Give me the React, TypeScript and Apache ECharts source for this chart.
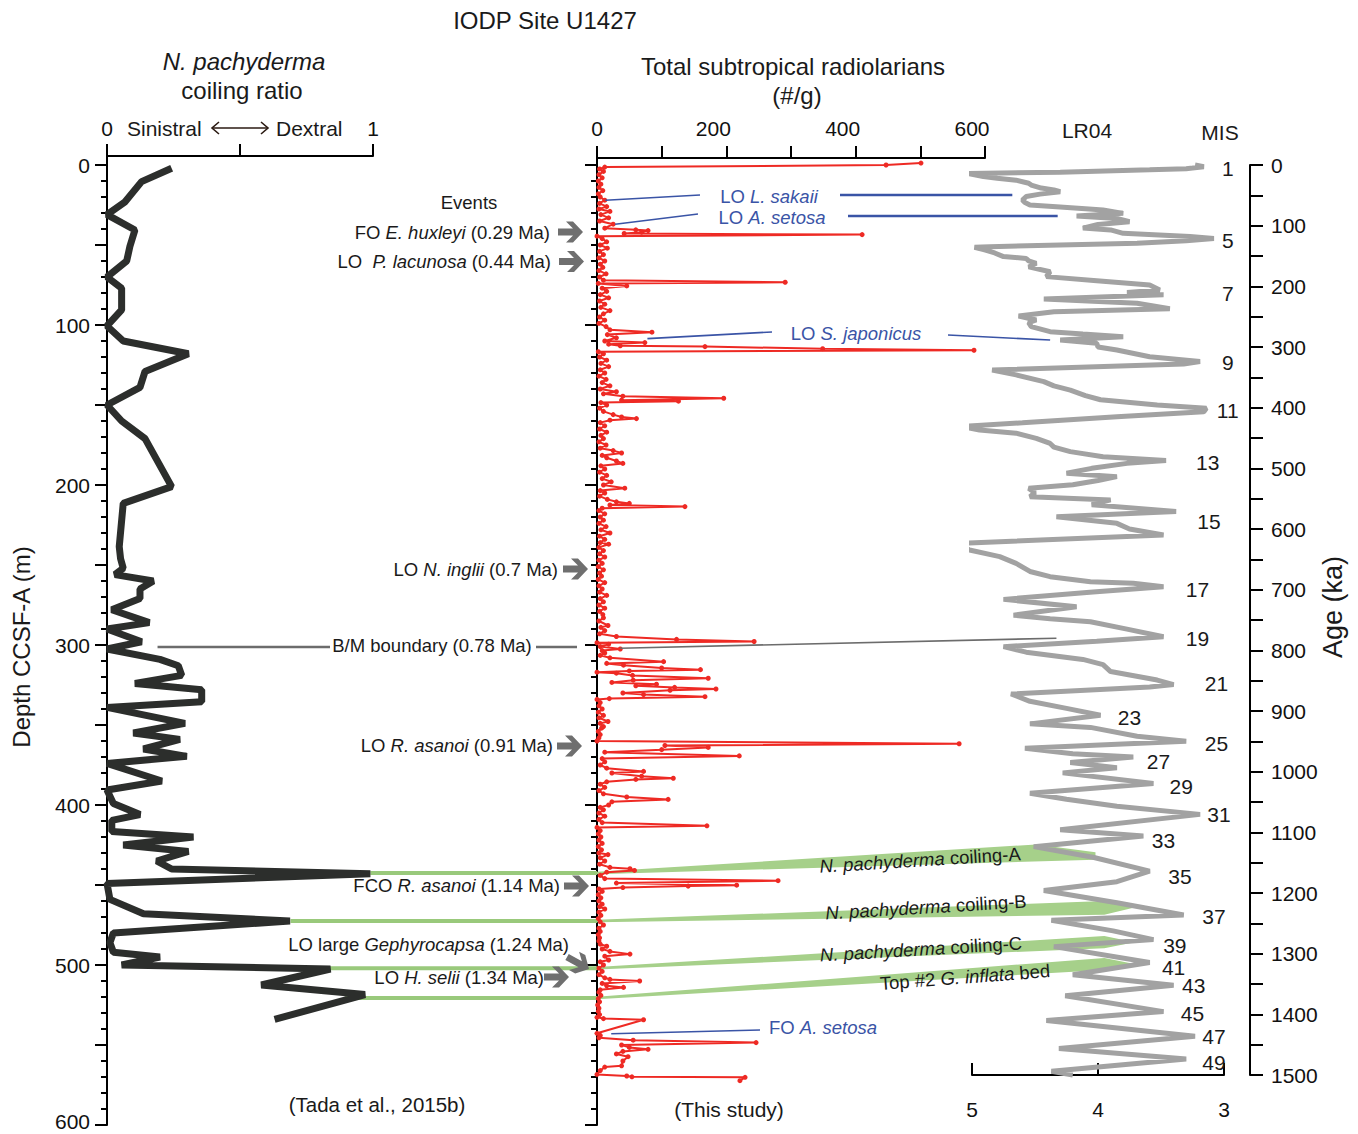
import React, { useEffect, useRef } from 'react';
import * as echarts from 'echarts';

const FONT = '"Liberation Sans", Arial, Helvetica, sans-serif';

// [depth (m), coiling ratio]
const pachyderma: [number, number][] = [
  [2, 0.243], [10.4, 0.13], [23, 0.068], [31, 0.0], [40.6, 0.105], [51, 0.086], [60, 0.074], [70, 0],
  [77, 0.055], [90.6, 0.055], [100.6, 0], [110, 0.061], [118, 0.306], [129, 0.143], [139, 0.124], [150, 0],
  [160, 0.055], [171, 0.143], [201, 0.243], [211.5, 0.061], [238.5, 0.046], [246, 0.051], [252, 0.061],
  [256, 0.03], [260, 0.174], [265, 0.124], [271, 0.124], [278, 0.018], [286, 0.159], [290, 0], [298, 0.13],
  [302.5, 0], [309, 0.199], [313, 0.268], [319, 0.281], [324, 0.105], [328, 0.356], [335.5, 0.356], [339, 0],
  [349, 0.293], [355, 0.099], [359, 0.274], [365, 0.137], [369.6, 0.3], [374, 0], [385, 0.206], [390.6, 0],
  [399, 0.024], [406, 0.124], [409.6, 0.018], [416.5, 0.018], [420, 0.325], [425, 0.061], [429, 0.306],
  [435, 0.187], [440, 0.243], [443, 0.99], [449, 0], [459, 0.011], [468, 0.137], [472.5, 0.688], [480, 0.024],
  [486, 0.011], [492, 0.024], [495, 0.199], [500, 0.055], [502.5, 0.84], [512.5, 0.58], [518.5, 0.97], [534, 0.63],
];

// [depth (m), total subtropical radiolarians (#/g)]
const radiolarians: [number, number][] = [
  [-1.2, 501], [0, 447], [1.3, 12], [2.5, 4], [4, 10], [6, 3], [8, 8], [10, 2], [12, 6], [14, 3], [16, 9],
  [18, 2], [20, 5], [22, 12], [24, 4], [26, 15], [27.5, 3], [29, 20], [31, 6], [33, 18], [35, 4], [37, 25],
  [39.5, 12], [40.5, 60], [41, 79], [42, 69], [42.8, 42], [43.5, 410], [44.5, 0], [46, 8], [48, 15], [50, 5],
  [52, 16], [54, 4], [56, 10], [58, 3], [60, 12], [62, 5], [64, 9], [66, 3], [68, 14], [70, 4], [72, 10],
  [73.3, 291], [74, 2], [75.6, 46], [77, 8], [79, 15], [81, 5], [83, 18], [85, 4], [87, 12], [89, 6], [91, 20],
  [93, 10], [95, 4], [97, 12], [99, 3], [101, 14], [103, 20], [104.5, 85], [106, 16], [108, 30], [110, 12],
  [111, 74], [112, 18], [113, 36], [113.5, 167], [114.8, 349], [115.8, 583], [116.7, 2], [118, 10], [120, 4],
  [122, 15], [124, 6], [126, 18], [128, 5], [130, 12], [132, 3], [134, 14], [136, 8], [138, 20], [140, 5],
  [141.7, 30], [143, 10], [144.5, 40], [145.8, 196], [147, 38], [147.6, 126], [148.5, 6], [150, 15], [152, 4],
  [154, 10], [156, 25], [157.5, 38], [158.5, 61], [159.5, 20], [161, 5], [163, 12], [165, 4], [167, 15], [169, 6],
  [171, 10], [173, 3], [175, 14], [177, 5], [178.5, 25], [180, 38], [181.5, 8], [183, 15], [185, 30], [186.5, 40],
  [188, 6], [190, 12], [192, 4], [194, 15], [196, 8], [198, 22], [200, 10], [202, 43], [203.5, 5], [205, 12],
  [207, 4], [209, 16], [210.5, 30], [211.5, 50], [212.5, 20], [213.5, 136], [214.5, 8], [216, 3], [218, 12],
  [220, 5], [222, 10], [224, 3], [226, 14], [228, 6], [230, 20], [232, 4], [234, 12], [236, 5], [237, 18],
  [239, 3], [241, 10], [243, 4], [245, 12], [247, 3], [249, 8], [251, 2], [253, 10], [255, 4], [257, 7], [259, 2],
  [261, 12], [263, 3], [265, 8], [267, 4], [269, 15], [271, 5], [273, 10], [275, 3], [277, 12], [279, 4], [281, 9],
  [283, 10], [285, 3], [287.8, 17], [289, 6], [291, 12], [293, 4], [294.7, 30], [296.5, 123], [297.8, 243],
  [298.6, 0], [299.5, 18], [301, 5], [302.5, 36], [303.5, 8], [305, 12], [306.5, 5], [308, 20], [310.4, 103],
  [311.5, 15], [312.6, 41], [314.4, 100], [315.4, 160], [316.2, 50], [317, 0], [317.6, 30], [319, 55],
  [320.8, 172], [322, 56], [323.4, 23], [324.5, 92], [325.5, 60], [326.5, 120], [327.5, 184], [328.3, 113],
  [330, 40], [331, 72], [332.3, 167], [333.5, 19], [334, 0], [336, 5], [338, 3], [340, 8], [342, 2], [344, 10],
  [345.5, 3], [347.8, 17], [349, 5], [351, 10], [352, 7], [354, 2], [356, 5], [358, 3], [360, 0], [361.7, 560],
  [362.8, 105], [364, 172], [365.4, 100], [367, 12], [369.3, 220], [371, 8], [373, 12], [375, 5], [377, 15],
  [379, 72], [380, 23], [382, 69], [383.3, 118], [384, 60], [385.5, 15], [387, 5], [389, 12], [391, 3], [393, 10],
  [395, 46], [396.5, 110], [398, 23], [400, 18], [401.5, 5], [403, 10], [405, 3], [407, 12], [409, 3], [411, 8],
  [413, 170], [414, 0], [416, 5], [418, 2], [420, 6], [422, 3], [424, 8], [426, 2], [428, 7], [430, 3], [431, 17],
  [433, 5], [435, 12], [437, 4], [439, 20], [439.8, 51], [440.9, 58], [442, 15], [444, 5], [446, 12],
  [447.3, 280], [448.8, 30], [450.1, 216], [450.7, 141], [451.6, 40], [452.5, 3], [454, 8], [456, 2], [458, 6],
  [460, 3], [462, 8], [463.5, 4], [465, 12], [467, 3], [469, 6], [471, 2], [473, 5], [475, 10], [477, 3], [479, 5],
  [481, 2], [483, 4], [485, 3], [487, 5], [488.3, 15], [490, 8], [491.5, 20], [493.2, 51], [494.5, 12],
  [496.9, 18], [498, 5], [500, 10], [502, 3], [504, 8], [506, 3], [508, 12], [509, 20], [510, 66], [511.5, 8],
  [513, 15], [514, 41], [515.5, 5], [517, 3], [519, 6], [521, 2], [523, 4], [525, 1], [527, 3], [529, 2], [531, 4],
  [532.7, 0], [533.5, 10], [534.2, 72], [542.7, 0], [544, 5], [545.5, 3], [547, 56], [548.5, 246], [550, 38],
  [551.5, 50], [552.7, 79], [554, 40], [555.6, 30], [557.3, 48], [560, 40], [563, 38], [563.8, 12], [566, 5],
  [568.4, 0], [569.4, 46], [569.9, 54], [570.2, 229], [572.3, 221],
];

// [age (ka), benthic d18O (permil)]
const lr04: [number, number][] = [
  [0, 3.23], [3, 3.16], [5, 3.25], [6, 3.3], [8, 3.59], [12, 4.3], [14, 5.03], [19, 4.91], [22, 4.8], [25, 4.65],
  [30, 4.55], [33, 4.53], [38, 4.45], [41, 4.35], [44, 4.3], [48, 4.46], [52, 4.57], [57.7, 4.6], [62, 4.58],
  [66, 4.54], [68.7, 4.33], [72, 4.1], [74, 3.96], [79.7, 3.8], [84, 4.17], [88, 3.85], [93.4, 3.75], [98, 4.0],
  [104, 4.12], [107, 3.9], [112.6, 3.8], [118, 3.27], [121, 3.08], [125, 3.3], [129, 3.69], [134.6, 4.86],
  [135.7, 4.98], [140, 4.9], [145, 4.82], [151, 4.75], [154, 4.57], [158, 4.55], [162, 4.49], [168, 4.55],
  [176, 4.38], [184, 4.41], [190.7, 4.01], [197.8, 3.59], [206, 3.51], [210, 3.77], [214, 3.48], [221, 4.43],
  [228, 3.69], [237, 3.43], [242, 4.35], [249, 4.63], [255.5, 4.49], [260, 4.55], [266.5, 4.53], [274.7, 4.38],
  [278.6, 4.12], [283, 3.8], [288.5, 4.3], [294, 4.01], [300, 4.0], [305, 3.85], [316, 3.59], [324, 3.19],
  [328, 3.32], [338, 4.84], [346, 4.65], [357, 4.43], [364, 4.35], [371, 4.22], [380, 4.1], [387, 3.98],
  [395.6, 3.53], [401, 3.14], [406.6, 3.16], [415, 3.85], [425, 4.6], [431, 5.08], [437, 4.94], [442, 4.65],
  [450.5, 4.49], [459, 4.38], [465, 4.35], [472.5, 4.22], [481, 3.96], [487, 3.46], [491.8, 3.77], [500, 4.05],
  [508, 4.25], [513.7, 3.85], [520, 4.0], [527, 4.2], [533, 4.55], [540, 4.5], [546.7, 4.54], [552, 3.9],
  [560, 4.05], [571, 3.38], [579.7, 4.33], [590.7, 3.85], [600, 3.75], [610, 3.48], [623.6, 5.1], [634.6, 5.02],
  [645.6, 4.78], [656.6, 4.65], [670, 4.54], [678.6, 4.38], [687, 4.06], [689.6, 3.72], [695, 3.48], [704, 4.04],
  [716, 4.75], [728, 4.17], [742, 4.67], [748, 4.38], [753, 4.06], [765, 3.77], [777.7, 3.48], [785, 4.01],
  [794, 4.75], [803, 4.57], [815, 4.12], [823.5, 3.96], [835, 3.9], [849, 3.53], [856.4, 3.4], [860.5, 3.59],
  [872, 4.69], [884, 4.54], [895.6, 4.25], [907, 3.98], [921.2, 4.54], [927, 4.06], [941.5, 3.69], [950, 3.3],
  [961.6, 4.58], [970.3, 4.2], [976, 3.72], [984.8, 4.22], [993.5, 3.85], [1002, 4.28], [1019.5, 3.56],
  [1035.7, 4.54], [1045.5, 4.25], [1057, 3.85], [1070.4, 3.19], [1095.8, 4.3], [1106.2, 3.64], [1123.6, 4.51],
  [1141, 4.04], [1164, 3.59], [1181.4, 3.85], [1195.8, 4.43], [1216, 3.85], [1236.3, 3.32], [1245, 4.37],
  [1262.4, 3.88], [1276.8, 3.56], [1288.4, 4.35], [1314.5, 3.59], [1334.7, 4.2], [1352, 3.4], [1369.4, 4.26],
  [1395.5, 3.48], [1410, 4.41], [1436, 3.23], [1456.3, 4.31], [1473.7, 3.3], [1494, 4.37], [1500, 4.2],
];

const misLabels = ['1', '5', '7', '9', '11', '13', '15', '17', '19', '21', '23', '25', '27', '29', '31', '33', '35', '37', '39', '41', '43', '45', '47', '49'];
const misAges = [5, 124, 211, 326, 405, 491, 588, 699, 780, 854, 910, 953, 984, 1024, 1070, 1114, 1172, 1238, 1286, 1322, 1353, 1398, 1436, 1479];
const misD18O = [2.97, 2.97, 2.97, 2.97, 2.97, 3.13, 3.12, 3.21, 3.21, 3.06, 3.75, 3.06, 3.52, 3.34, 3.04, 3.48, 3.35, 3.08, 3.39, 3.4, 3.24, 3.25, 3.08, 3.08];

const eventLabels = [
  'FO {i|E. huxleyi} (0.29 Ma)',
  'LO  {i|P. lacunosa} (0.44 Ma)',
  'LO {i|N. inglii} (0.7 Ma)',
  'LO {i|R. asanoi} (0.91 Ma)',
  'FCO {i|R. asanoi} (1.14 Ma)',
  'LO {i|H. selii} (1.34 Ma)',
];
const eventDepths = [41.9, 60.3, 252.5, 363.1, 450.6, 507.5];

// layout helpers (grid geometry)
const G0 = { left: 107, top: 165, width: 266, height: 960 };
const G1 = { left: 597, top: 165, width: 388, height: 960 };
const G2 = { left: 972, top: 165, width: 252, height: 910 };
const dY = (d: number) => G1.top + (d / 600) * G1.height;
const aY = (a: number) => G2.top + (a / 1500) * G2.height;
const rX = (r: number) => G0.left + r * G0.width;
const vX = (v: number) => G1.left + (v / 600) * G1.width;
const oX = (o: number) => G2.left + ((5 - o) / 2) * G2.width;

const BLUE = '#3a54a6';
const GREEN = '#a6d08a';
const GRAYLINE = '#6c6c6c';
const ARROW = '#6f6f6f';
const INK = '#1a1a1a';

function txt(text: string, x: number, y: number, o: any = {}) {
  const size = o.size ?? 18.5;
  const color = o.color ?? INK;
  return {
    type: 'text', x, y, z: 20, rotation: o.rot ?? 0,
    style: {
      text, fontSize: size, fontFamily: FONT, fill: color,
      align: o.align ?? 'center', verticalAlign: 'middle',
      fontStyle: o.italic ? 'italic' : 'normal',
      rich: { i: { fontStyle: 'italic', fontSize: size, fontFamily: FONT, fill: color } },
    },
  };
}
function ln(x1: number, y1: number, x2: number, y2: number, stroke: string, w: number, z = 8) {
  return { type: 'line', z, shape: { x1, y1, x2, y2 }, style: { stroke, lineWidth: w } };
}
function arrow(x: number, y: number, rot = 0) {
  return {
    type: 'polygon', x, y, rotation: rot, z: 9,
    shape: { points: [[0, 0], [-10, -10.5], [-17, -10.5], [-10, -3.5], [-25, -3.5], [-25, 3.5], [-10, 3.5], [-17, 10.5], [-10, 10.5]] },
    style: { fill: ARROW },
  };
}
function poly(points: number[][], fill: string, z = 1) {
  return { type: 'polygon', z, shape: { points }, style: { fill } };
}

function buildGraphic() {
  const g: any[] = [];
  // titles
  g.push(txt('IODP Site U1427', 545, 20, { size: 24 }));
  g.push(txt('N. pachyderma', 244, 61, { size: 24, italic: true }));
  g.push(txt('coiling ratio', 242, 90, { size: 24 }));
  g.push(txt('Total subtropical radiolarians', 793, 66, { size: 24 }));
  g.push(txt('(#/g)', 797, 95, { size: 24 }));
  g.push(txt('Sinistral', 127, 128, { size: 21, align: 'left' }));
  g.push(txt('Dextral', 276, 128, { size: 21, align: 'left' }));
  g.push(ln(212, 128, 268, 128, '#2b1a12', 1.6));
  g.push({ type: 'polyline', z: 8, shape: { points: [[219, 122], [212, 128], [219, 134]] }, style: { stroke: '#2b1a12', lineWidth: 1.6, fill: null } });
  g.push({ type: 'polyline', z: 8, shape: { points: [[261, 122], [268, 128], [261, 134]] }, style: { stroke: '#2b1a12', lineWidth: 1.6, fill: null } });
  g.push(txt('LR04', 1087, 130, { size: 21 }));
  g.push(txt('MIS', 1220, 132, { size: 21 }));
  g.push(txt('Depth CCSF-A (m)', 21, 647, { size: 24, rot: Math.PI / 2 }));
  g.push(txt('Age (ka)', 1333, 607, { size: 27, rot: Math.PI / 2 }));
  g.push(txt('(Tada et al., 2015b)', 377, 1104, { size: 20.5 }));
  g.push(txt('(This study)', 729, 1109, { size: 21 }));
  // axis line extensions up to the top axes
  g.push(ln(G0.left, 155, G0.left, G0.top + 1, '#000', 2, 10));
  g.push(ln(G1.left, 157, G1.left, G1.top + 1, '#000', 2, 10));

  // events
  g.push(txt('Events', 469, 202));
  const textRight = [550, 551, 558, 553, 560, 544];
  const tipX = [583, 584, 588, 582, 589, 569];
  eventLabels.forEach((l, i) => {
    const y = dY(eventDepths[i]);
    g.push(txt(l, textRight[i], y, { align: 'right' }));
    g.push(arrow(tipX[i], y));
  });
  g.push(txt('LO large {i|Gephyrocapsa} (1.24 Ma)', 569, 944, { align: 'right' }));
  g.push(arrow(589, dY(502.5), -0.5));

  // B/M boundary
  const yBM = dY(301.3);
  g.push(ln(rX(0.19), yBM, 330, yBM, GRAYLINE, 2.5));
  g.push(txt('B/M boundary (0.78 Ma)', 432, yBM - 2));
  g.push(ln(536, yBM, 577, yBM, GRAYLINE, 2.5));
  g.push(ln(vX(36), dY(302), oX(4.33), aY(780), GRAYLINE, 1.6));

  // blue radiolarian events
  g.push(ln(vX(13), dY(22), 700, 195, BLUE, 1.6));
  g.push(txt('LO {i|L. sakaii}', 769, 196, { color: BLUE }));
  g.push(ln(840, 195, oX(4.68), aY(49.5), BLUE, 2.6));
  g.push(ln(vX(28), dY(37), 698, 214, BLUE, 1.6));
  g.push(txt('LO {i|A. setosa}', 772, 217, { color: BLUE }));
  g.push(ln(848, 216, oX(4.32), aY(84), BLUE, 2.6));
  g.push(ln(vX(78), dY(108.5), 772, 332, BLUE, 1.6));
  g.push(txt('LO {i|S. japonicus}', 856, 333, { color: BLUE }));
  g.push(ln(948, 335, oX(4.38), aY(288.5), BLUE, 1.6));
  g.push(ln(vX(22), dY(543), 760, 1030, BLUE, 1.6));
  g.push(txt('FO {i|A. setosa}', 823, 1027, { color: BLUE }));

  // N. pachyderma coiling tie lines (left horizontal lines + bands to LR04)
  const ties = [
    { d: 442.5, r: 0.99, pts: [[4.49, 1120], [4.02, 1133], [4.02, 1145]] },
    { d: 472.5, r: 0.69, pts: [[3.95, 1213], [3.71, 1224], [3.95, 1236]] },
    { d: 502.0, r: 0.733, pts: [[3.95, 1271], [3.71, 1281], [3.95, 1291]] },
    { d: 520.6, r: 0.895, pts: [[3.95, 1307], [3.71, 1317], [3.95, 1327]] },
  ];
  ties.forEach((t) => {
    const y = dY(t.d);
    g.push(ln(rX(t.r), y, G1.left, y, '#99c97b', 4, 1));
    g.push(poly([[G1.left, y - 1.2], ...t.pts.map(([o, a]) => [oX(o), aY(a)]), [G1.left, y + 1.2]], GREEN, 1));
  });
  g.push(txt('{i|N. pachyderma} coiling-A', 920, 860, { rot: 0.063 }));
  g.push(txt('{i|N. pachyderma} coiling-B', 926, 907, { rot: 0.06 }));
  g.push(txt('{i|N. pachyderma} coiling-C', 921, 949, { rot: 0.06 }));
  g.push(txt('Top #2 {i|G. inflata} bed', 965, 977, { rot: 0.075 }));

  // MIS labels
  misLabels.forEach((m, i) => g.push(txt(m, oX(misD18O[i]), aY(misAges[i]), { size: 21 })));
  return g;
}

function buildOption(): any {
  const axisLine = { show: true, onZero: false, lineStyle: { color: '#000', width: 2 } };
  const tick = (len: number, inside = false) => ({ show: true, length: len, inside, lineStyle: { color: '#000', width: 2 } });
  const lab = (extra: any = {}) => ({ color: '#111', fontSize: 21, fontFamily: FONT, ...extra });
  return {
    animation: false,
    backgroundColor: '#ffffff',
    grid: [
      { ...G0, outerBoundsMode: 'none', containLabel: false },
      { ...G1, outerBoundsMode: 'none', containLabel: false },
      { ...G2, outerBoundsMode: 'none', containLabel: false },
    ],
    xAxis: [
      {
        gridIndex: 0, type: 'value', min: 0, max: 1, interval: 0.5, position: 'top', offset: 9,
        axisLine, axisTick: tick(12), splitLine: { show: false },
        axisLabel: lab({ margin: 17, formatter: (v: number) => (Math.abs(v - 0.5) < 1e-6 ? '' : String(v)) }),
      },
      {
        gridIndex: 1, type: 'value', min: 0, max: 600, interval: 100, position: 'top', offset: 7,
        axisLine, axisTick: tick(12), splitLine: { show: false },
        axisLabel: lab({
          margin: 19,
          formatter: (v: number) => (v === 0 ? '0' : v % 200 === 0 ? `{s|${v}}` : ''),
          rich: { s: { padding: [0, 26, 0, 0], fontSize: 21, fontFamily: FONT, color: '#111' } },
        }),
      },
      {
        gridIndex: 2, type: 'value', min: 3, max: 5, inverse: true, interval: 1, position: 'bottom',
        axisLine, axisTick: tick(12, true), splitLine: { show: false },
        axisLabel: lab({ margin: 24 }),
      },
    ],
    yAxis: [
      {
        gridIndex: 0, type: 'value', min: 0, max: 600, inverse: true, interval: 50,
        axisLine, axisTick: tick(12), minorTick: { show: true, splitNumber: 5, length: 6, lineStyle: { color: '#000', width: 2 } },
        splitLine: { show: false }, minorSplitLine: { show: false },
        axisLabel: lab({
          margin: 17,
          formatter: (v: number) => (v === 600 ? '{b|600}' : v % 100 === 0 ? String(v) : ''),
          rich: { b: { padding: [0, 0, 8, 0], fontSize: 21, fontFamily: FONT, color: '#111' } },
        }),
      },
      {
        gridIndex: 1, type: 'value', min: 0, max: 600, inverse: true, interval: 100,
        axisLine, axisTick: tick(12), minorTick: { show: true, splitNumber: 10, length: 6, lineStyle: { color: '#000', width: 2 } },
        splitLine: { show: false }, minorSplitLine: { show: false }, axisLabel: { show: false },
      },
      {
        gridIndex: 2, type: 'value', min: 0, max: 1500, inverse: true, interval: 50, position: 'right', offset: 26,
        axisLine, axisTick: tick(13), splitLine: { show: false },
        axisLabel: lab({ margin: 21, formatter: (v: number) => (v % 100 === 0 ? String(v) : '') }),
      },
    ],
    series: [
      {
        type: 'line', xAxisIndex: 0, yAxisIndex: 0, clip: false, z: 3,
        data: pachyderma.map(([d, r]) => [r, d]), symbol: 'none',
        lineStyle: { color: '#2c2e2c', width: 7 },
      },
      {
        type: 'line', xAxisIndex: 1, yAxisIndex: 1, clip: false, z: 4,
        data: radiolarians.map(([d, v]) => [v, d]), symbol: 'circle', symbolSize: 5, showAllSymbol: true,
        itemStyle: { color: '#ee2a24' }, lineStyle: { color: '#ee2a24', width: 2 },
      },
      {
        type: 'line', xAxisIndex: 2, yAxisIndex: 2, clip: false, z: 3,
        data: lr04.map(([a, o]) => [o, a]), symbol: 'none',
        lineStyle: { color: '#a2a2a2', width: 5 },
      },
    ],
    graphic: { elements: buildGraphic() },
  };
}

export default function App() {
  const ref = useRef<HTMLDivElement>(null);
  useEffect(() => {
    const chart = echarts.init(ref.current as HTMLDivElement, null, { renderer: 'svg' });
    chart.setOption(buildOption());
    return () => chart.dispose();
  }, []);
  return (
    <div
      ref={ref}
      style={{ position: 'absolute', left: 0, top: 0, width: 1358, height: 1134, background: '#fff' }}
    />
  );
}
